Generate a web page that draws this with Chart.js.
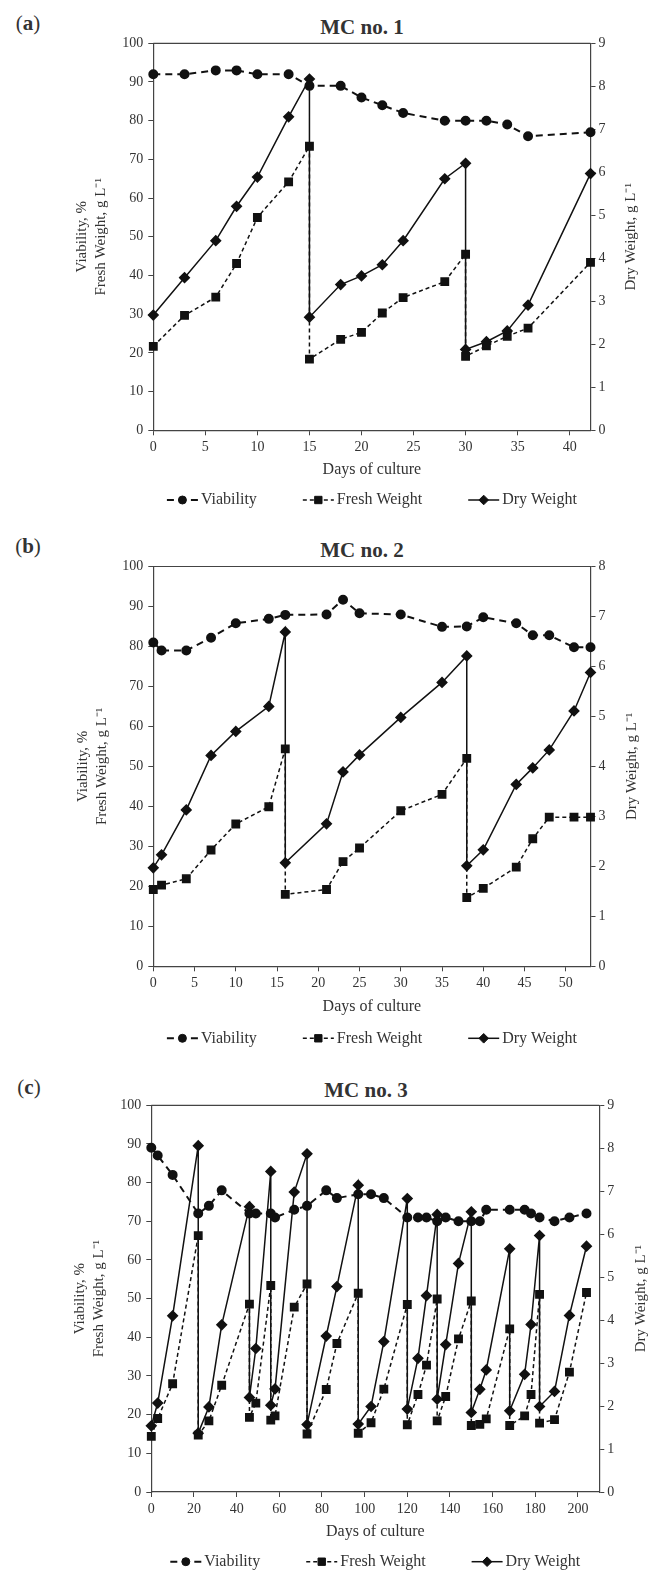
<!DOCTYPE html>
<html>
<head>
<meta charset="utf-8">
<script src="https://cdn.jsdelivr.net/npm/chart.js@4.4.1/dist/chart.umd.min.js"></script>
<style>
  body { margin: 0; width: 652px; height: 1571px; position: relative; background: #fff; overflow: hidden;
         font-family: 'Liberation Serif', serif; color: #333; }
  canvas { position: absolute; left: 0; }
  .tag { position: absolute; font-size: 21px; transform: translate(-50%, -50%); white-space: nowrap; }
  .title { position: absolute; font-size: 21px; font-weight: bold; transform: translate(-50%, -50%); white-space: nowrap; }
</style>
</head>
<body>
<div class="tag" style="left:28px;top:23px">(<b>a</b>)</div>
<div class="title" style="left:362px;top:27px">MC no. 1</div>
<canvas id="cA" width="652" height="520" style="top:0"></canvas>

<div class="tag" style="left:28px;top:546px">(<b>b</b>)</div>
<div class="title" style="left:362px;top:550px">MC no. 2</div>
<canvas id="cB" width="652" height="530" style="top:520px"></canvas>

<div class="tag" style="left:29px;top:1087px">(<b>c</b>)</div>
<div class="title" style="left:366px;top:1090px">MC no. 3</div>
<canvas id="cC" width="652" height="521" style="top:1050px"></canvas>

<script>
"use strict";

// ---- MC no. 1 ----
const daysViabA = [0, 3, 6, 8, 10, 13, 15, 18, 20, 22, 24, 28, 30, 32, 34, 36, 42];
const viabA = [92, 92, 93, 93, 92, 92, 89, 89, 86, 84, 82, 80, 80, 80, 79, 76, 77];
const daysWeightA = [0, 3, 6, 8, 10, 13, 15, 15, 18, 20, 22, 24, 28, 30, 30, 32, 34, 36, 42];
const freshA = [21.7, 29.7, 34.4, 43.1, 55.0, 64.2, 73.4, 18.4, 23.5, 25.3, 30.3, 34.3, 38.4, 45.5, 19.1, 21.8, 24.3, 26.4, 43.4];
const dryA = [2.68, 3.55, 4.41, 5.21, 5.89, 7.29, 8.17, 2.63, 3.39, 3.59, 3.85, 4.41, 5.85, 6.21, 1.88, 2.06, 2.31, 2.91, 5.97];

// ---- MC no. 2 ----
const daysViabB = [0, 1, 4, 7, 10, 14, 16, 21, 23, 25, 30, 35, 38, 40, 44, 46, 48, 51, 53];
const viabB = [81, 79, 79, 82.2, 85.8, 86.9, 87.9, 88, 91.7, 88.3, 88, 84.9, 85, 87.3, 85.8, 82.8, 82.8, 79.8, 79.8];
const daysWeightB = [0, 1, 4, 7, 10, 14, 16, 16, 21, 23, 25, 30, 35, 38, 38, 40, 44, 46, 48, 51, 53];
const freshB = [19.2, 20.3, 21.9, 29.1, 35.6, 39.9, 54.4, 18.0, 19.2, 26.2, 29.6, 38.9, 43.0, 52.0, 17.2, 19.5, 24.8, 31.9, 37.3, 37.3, 37.3];
const dryB = [1.97, 2.23, 3.13, 4.22, 4.70, 5.20, 6.69, 2.07, 2.85, 3.89, 4.23, 4.98, 5.68, 6.21, 2.01, 2.33, 3.64, 3.97, 4.33, 5.11, 5.88];

// ---- MC no. 3 ----
const daysViabC = [0, 3, 10, 22, 27, 33, 46, 49, 56, 58, 67, 73, 82, 87, 97, 103, 109, 120, 125, 129, 134, 138, 144, 150, 154, 157, 168, 175, 178, 182, 189, 196, 204];
const viabC = [89, 87, 82, 72, 74, 78, 72, 72, 72, 71, 73, 74, 78, 76, 77, 77, 76, 71, 71, 71, 70, 71, 70, 70, 70, 73, 73, 73, 72, 71, 70, 71, 72];
const daysFreshC = [0, 3, 10, 22, 22, 27, 33, 46, 46, 49, 56, 56, 58, 67, 73, 73, 82, 87, 97, 97, 103, 109, 120, 120, 125, 129, 134, 134, 138, 144, 150, 150, 154, 157, 168, 168, 175, 178, 182, 182, 189, 196, 204];
const freshC = [14.4, 19.0, 28.0, 66.3, 14.7, 18.4, 27.6, 48.6, 19.3, 23.0, 53.4, 18.6, 19.7, 47.8, 53.8, 15.0, 26.5, 38.4, 51.4, 15.2, 17.9, 26.6, 48.5, 17.4, 25.2, 32.8, 49.9, 18.4, 24.7, 39.6, 49.4, 17.2, 17.5, 18.9, 42.2, 17.2, 19.7, 25.2, 51.1, 17.8, 18.7, 31.0, 51.6];
const daysDryC = daysFreshC;
const dryC = [1.54, 2.07, 4.10, 8.06, 1.37, 1.98, 3.89, 6.64, 2.20, 3.34, 7.46, 2.02, 2.40, 6.98, 7.87, 1.57, 3.63, 4.78, 7.14, 1.58, 1.99, 3.50, 6.83, 1.93, 3.11, 4.57, 6.46, 2.16, 3.43, 5.32, 6.52, 1.85, 2.39, 2.84, 5.66, 1.89, 2.74, 3.90, 5.97, 1.99, 2.34, 4.11, 5.72];

const seriesNames = ['Viability', 'Fresh Weight', 'Dry Weight'];
const xTitle = 'Days of culture';
const yTitle = ['Viability, %', 'Fresh Weight, g L\u207B\u00B9'];
const y2Title = 'Dry Weight, g L\u207B\u00B9';

const INK = '#111';
const AXIS = '#444';
const TEXT = '#333';
const FONT = "'Liberation Serif', serif";

Chart.defaults.font.family = FONT;
Chart.defaults.color = TEXT;

const pts = (xs, ys) => xs.map((x, i) => ({ x: x, y: ys[i] }));

function marker(ctx, style, r, x, y) {
  if (Chart.helpers && Chart.helpers.drawPoint) {
    Chart.helpers.drawPoint(ctx, { pointStyle: style, radius: r, borderWidth: 1, rotation: 0 }, x, y);
    return;
  }
  ctx.beginPath();
  ctx.arc(x, y, r, 0, Math.PI * 2);
  ctx.fill();
}

// top frame line, right title (reads upward) and legend
const framePlugin = {
  id: 'frame',
  afterDraw(chart, args, o) {
    const { ctx, chartArea: a } = chart;
    ctx.save();
    ctx.strokeStyle = AXIS;
    ctx.lineWidth = 1.2;
    ctx.beginPath();
    ctx.moveTo(a.left, a.top);
    ctx.lineTo(a.right, a.top);
    ctx.stroke();

    ctx.save();
    ctx.fillStyle = TEXT;
    ctx.font = '15px ' + FONT;
    ctx.textAlign = 'center';
    ctx.textBaseline = 'middle';
    ctx.translate(o.rightTitleX, (a.top + a.bottom) / 2);
    ctx.rotate(-Math.PI / 2);
    ctx.fillText(y2Title, 0, 0);
    ctx.restore();

    ctx.font = '16px ' + FONT;
    const sw = 31, tg = 3, gap = 46;
    const items = chart.data.datasets.map(ds => ({ ds: ds, w: sw + tg + ctx.measureText(ds.label).width }));
    const total = items.reduce((s, it) => s + it.w, 0) + gap * (items.length - 1);
    let x = (a.left + a.right) / 2 - total / 2;
    const y = o.legendY;
    items.forEach(({ ds, w }) => {
      ctx.strokeStyle = INK;
      ctx.lineWidth = ds.borderWidth;
      ctx.setLineDash(ds.borderDash || []);
      ctx.beginPath();
      ctx.moveTo(x, y);
      ctx.lineTo(x + sw, y);
      ctx.stroke();
      ctx.setLineDash([]);
      ctx.fillStyle = INK;
      ctx.lineWidth = 1;
      marker(ctx, ds.pointStyle, ds.pointRadius, x + sw / 2, y);
      ctx.fillStyle = TEXT;
      ctx.textAlign = 'left';
      ctx.textBaseline = 'middle';
      ctx.fillText(ds.label, x + sw + tg, y);
      x += w + gap;
    });
    ctx.restore();
  }
};

function makePanel(p) {
  const lh = 18.75;
  const padL = p.firstLineX - lh / 2 - 2;
  const padR = 0;
  const xTitleLh = 19.2;
  new Chart(document.getElementById(p.id), {
    type: 'line',
    data: {
      datasets: [
        { label: seriesNames[0], data: pts(p.viabDays, p.viab), yAxisID: 'y',
          borderDash: [7, 5], borderWidth: 2, pointStyle: 'circle', pointRadius: 4 },
        { label: seriesNames[1], data: pts(p.freshDays, p.fresh), yAxisID: 'y',
          borderDash: [4, 3], borderWidth: 1.5, pointStyle: 'rect', pointRadius: 5.2 },
        { label: seriesNames[2], data: pts(p.dryDays, p.dry), yAxisID: 'y2',
          borderWidth: 1.5, pointStyle: 'rectRot', pointRadius: 4.8 }
      ]
    },
    options: {
      responsive: false,
      animation: false,
      devicePixelRatio: 1,
      layout: { padding: { left: padL, right: padR, top: p.top, bottom: 0 } },
      elements: {
        line: { tension: 0, borderColor: INK, fill: false },
        point: { backgroundColor: INK, borderColor: INK, borderWidth: 1, hoverRadius: 4 }
      },
      datasets: { line: { clip: false } },
      plugins: {
        legend: { display: false },
        tooltip: { enabled: false },
        frame: { legendY: p.legendY, rightTitleX: p.rightTitleX }
      },
      scales: {
        x: {
          type: 'linear', min: 0, max: p.xMax,
          ticks: { stepSize: p.xStep, includeBounds: false, color: TEXT, font: { size: 14 }, padding: 4, maxRotation: 0 },
          grid: { drawOnChartArea: false, drawTicks: true, tickLength: 5, color: AXIS },
          border: { color: AXIS, width: 1.2 },
          title: { display: true, text: xTitle, color: TEXT, font: { size: 16 },
                   padding: { top: 0, bottom: p.H - p.xTitleY - xTitleLh / 2 } },
          afterFit(s) { s.height = p.H - p.bottom; }
        },
        y: {
          position: 'left', min: 0, max: 100,
          ticks: { stepSize: 10, color: TEXT, font: { size: 14 }, padding: 5 },
          grid: { drawOnChartArea: false, drawTicks: true, tickLength: 5, color: AXIS },
          border: { color: AXIS, width: 1.2 },
          title: { display: true, text: yTitle, color: TEXT, font: { size: 15, lineHeight: lh / 15 },
                   padding: { top: 2, bottom: 0 } },
          afterFit(s) { s.width = p.left - padL; }
        },
        y2: {
          position: 'right', min: 0, max: p.y2Max,
          ticks: { stepSize: 1, color: TEXT, font: { size: 14 }, padding: 3 },
          grid: { drawOnChartArea: false, drawTicks: true, tickLength: 5, color: AXIS },
          border: { color: AXIS, width: 1.2 },
          title: { display: false, text: y2Title },
          afterFit(s) { s.width = 652 - padR - p.right; }
        }
      }
    },
    plugins: [framePlugin]
  });
}

makePanel({ id: 'cA', H: 520, top: 43.3, bottom: 430.3, left: 153.3, right: 590.5,
  xMax: 42, xStep: 5, y2Max: 9, xTitleY: 470, legendY: 500, firstLineX: 82.5, rightTitleX: 631,
  viabDays: daysViabA, viab: viabA, freshDays: daysWeightA, fresh: freshA, dryDays: daysWeightA, dry: dryA });

makePanel({ id: 'cB', H: 530, top: 46.5, bottom: 446.3, left: 153.3, right: 590.5,
  xMax: 53, xStep: 5, y2Max: 8, xTitleY: 486.7, legendY: 518.3, firstLineX: 83, rightTitleX: 632,
  viabDays: daysViabB, viab: viabB, freshDays: daysWeightB, fresh: freshB, dryDays: daysWeightB, dry: dryB });

makePanel({ id: 'cC', H: 521, top: 55.3, bottom: 442, left: 151.3, right: 599.3,
  xMax: 210, xStep: 20, y2Max: 9, xTitleY: 481.7, legendY: 511.7, firstLineX: 80, rightTitleX: 641,
  viabDays: daysViabC, viab: viabC, freshDays: daysFreshC, fresh: freshC, dryDays: daysDryC, dry: dryC });
</script>
</body>
</html>
